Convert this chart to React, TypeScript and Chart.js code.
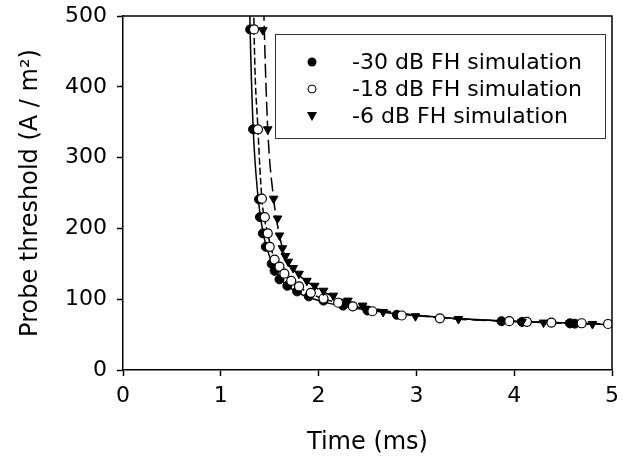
import React, { useEffect, useRef } from "react";
import { Chart, registerables } from "chart.js";
Chart.register(...registerables);

// -30 dB FH simulation (filled circles)
const t30 = [1.30, 1.33, 1.39, 1.40, 1.43, 1.46, 1.52, 1.55, 1.60, 1.68, 1.78, 1.90, 2.05, 2.25, 2.50, 2.80, 3.87, 4.08, 4.57, 4.62];
const v30 = [481, 340, 241, 216, 193, 174, 150, 140, 128, 119, 111, 104, 98, 91, 84, 78, 69, 68, 66, 65.5];
// -18 dB FH simulation (open circles)
const t18 = [1.34, 1.38, 1.42, 1.45, 1.48, 1.50, 1.55, 1.60, 1.65, 1.72, 1.80, 1.92, 2.05, 2.20, 2.35, 2.55, 2.85, 3.24, 3.95, 4.13, 4.38, 4.69, 4.96];
const v18 = [481, 340, 242, 216, 193, 174, 156, 146, 136, 126, 118, 109, 101, 95, 90, 83, 77, 73, 69, 68, 67, 66, 65];
// -6 dB FH simulation (triangles)
const t6 = [1.43, 1.48, 1.54, 1.58, 1.60, 1.63, 1.66, 1.69, 1.74, 1.80, 1.88, 1.96, 2.05, 2.15, 2.30, 2.45, 2.66, 2.99, 3.43, 4.08, 4.30, 4.57, 4.80];
const v6 = [480, 340, 242, 214, 190, 172, 161, 153, 144, 136, 126, 119, 112, 105, 98, 91, 82, 76, 72, 68, 67, 66, 65];

// fitted curves
const fit30T = [1.29, 1.30, 1.33, 1.38, 1.43, 1.50, 1.60, 1.75, 2.0, 2.3, 2.7, 3.2, 3.8, 4.4, 5.0];
const fit30V = [560, 481, 345, 245, 195, 160, 131, 112, 98, 89, 81, 75, 70, 67, 64];
const fit18T = [1.335, 1.34, 1.38, 1.42, 1.48, 1.55, 1.65, 1.8, 2.0, 2.3, 2.7, 3.2, 3.8, 4.4, 5.0];
const fit18V = [540, 481, 340, 242, 193, 156, 135, 117, 103, 92, 82, 75, 70, 67, 65];
const fit6T = [1.435, 1.445, 1.48, 1.54, 1.60, 1.66, 1.75, 1.9, 2.1, 2.4, 2.8, 3.3, 3.9, 4.5, 5.0];
const fit6V = [540, 480, 340, 242, 190, 160, 141, 123, 107, 93, 81, 73, 69, 66, 64];

const seriesLabels = ["-30 dB FH simulation", "-18 dB FH simulation", "-6 dB FH simulation"];
const xTicks = [0, 1, 2, 3, 4, 5];
const yTicks = [0, 100, 200, 300, 400, 500];

const FONT = "'DejaVu Sans', 'Liberation Sans', Arial, sans-serif";

const zip = (xs: number[], ys: number[]) => xs.map((x, i) => ({ x, y: ys[i] }));

const framePlugin = {
  id: "frame",
  afterDatasetsDraw(chart: any) {
    const { ctx, chartArea: a } = chart;
    ctx.save();
    ctx.strokeStyle = "#000";
    ctx.lineWidth = 1.5;
    ctx.beginPath();
    ctx.moveTo(a.left, a.top);
    ctx.lineTo(a.right, a.top);
    ctx.lineTo(a.right, a.bottom);
    ctx.stroke();
    // legend box
    const bx = 275, by = 34, bw = 330, bh = 104;
    ctx.fillStyle = "#fff";
    ctx.fillRect(bx, by, bw, bh);
    ctx.lineWidth = 1;
    ctx.strokeStyle = "#333";
    ctx.strokeRect(bx + 0.5, by + 0.5, bw, bh);
    const rows = [62, 89, 116];
    ctx.font = `22px ${FONT}`;
    ctx.textBaseline = "middle";
    rows.forEach((y, i) => {
      const mx = 312;
      ctx.lineWidth = 1;
      ctx.strokeStyle = "#000";
      if (i === 0) {
        ctx.fillStyle = "#000";
        ctx.beginPath();
        ctx.arc(mx, y, 4.5, 0, Math.PI * 2);
        ctx.fill();
      } else if (i === 1) {
        ctx.fillStyle = "#fff";
        ctx.beginPath();
        ctx.arc(mx, y, 4, 0, Math.PI * 2);
        ctx.fill();
        ctx.stroke();
      } else {
        ctx.fillStyle = "#000";
        ctx.beginPath();
        ctx.moveTo(mx - 5, y - 4);
        ctx.lineTo(mx + 5, y - 4);
        ctx.lineTo(mx, y + 5);
        ctx.closePath();
        ctx.fill();
      }
      ctx.fillStyle = "#000";
      ctx.textAlign = "left";
      ctx.fillText(seriesLabels[i], 352, y + 1);
    });
    ctx.restore();
  },
};

export default function App() {
  const ref = useRef<HTMLCanvasElement>(null);
  useEffect(() => {
    if (!ref.current) return;
    const lineDs = (T: number[], V: number[], dash: number[]) => ({
      type: "line" as const,
      data: zip(T, V),
      borderColor: "#000",
      borderWidth: 1.5,
      borderDash: dash,
      pointRadius: 0,
      showLine: true,
      cubicInterpolationMode: "monotone" as const,
      fill: false,
      order: 2,
    });
    const ptDs = (label: string, T: number[], V: number[], style: any) => ({
      type: "scatter" as const,
      label,
      data: zip(T, V),
      showLine: false,
      order: 1,
      ...style,
    });
    const chart = new Chart(ref.current, {
      type: "scatter",
      data: {
        datasets: [
          lineDs(fit30T, fit30V, []),
          lineDs(fit18T, fit18V, [7, 3]),
          lineDs(fit6T, fit6V, [14, 5]),
          ptDs(seriesLabels[2], t6, v6, {
            pointStyle: "triangle",
            rotation: 180,
            pointRadius: 5,
            backgroundColor: "#000",
            borderColor: "#000",
            borderWidth: 1,
          }),
          ptDs(seriesLabels[1], t18, v18, {
            pointStyle: "circle",
            pointRadius: 4.5,
            backgroundColor: "#fff",
            borderColor: "#000",
            borderWidth: 1.2,
          }),
          ptDs(seriesLabels[0], t30, v30, {
            pointStyle: "circle",
            pointRadius: 4.5,
            backgroundColor: "#000",
            borderColor: "#000",
            borderWidth: 1,
          }),
        ],
      },
      options: {
        responsive: false,
        animation: false,
        layout: { padding: { left: 0, right: 11, top: 16, bottom: 0 } },
        plugins: { legend: { display: false }, tooltip: { enabled: false } },
        scales: {
          x: {
            type: "linear",
            min: 0,
            max: 5,
            afterBuildTicks: (s: any) => {
              s.ticks = xTicks.map((v) => ({ value: v }));
            },
            afterFit: (s: any) => {
              s.height = 98;
              s.paddingLeft = 0;
              s.paddingRight = 0;
            },
            ticks: { color: "#000", font: { family: FONT, size: 22 }, padding: 7, maxRotation: 0 },
            grid: { drawOnChartArea: false, tickLength: 6, color: "#000", tickWidth: 1.5 },
            border: { color: "#000", width: 1.5 },
            title: {
              display: true,
              text: "Time (ms)",
              color: "#000",
              font: { family: FONT, size: 24 },
              padding: { top: 0, bottom: 11 },
            },
          },
          y: {
            type: "linear",
            min: 0,
            max: 500,
            afterBuildTicks: (s: any) => {
              s.ticks = yTicks.map((v) => ({ value: v }));
            },
            afterFit: (s: any) => {
              s.width = 123;
              s.paddingTop = 0;
              s.paddingBottom = 0;
            },
            ticks: { color: "#000", font: { family: FONT, size: 22 }, padding: 10 },
            grid: { drawOnChartArea: false, tickLength: 6, color: "#000", tickWidth: 1.5 },
            border: { color: "#000", width: 1.5 },
            title: {
              display: true,
              text: "Probe threshold (A / m²)",
              color: "#000",
              font: { family: FONT, size: 24 },
              padding: { top: 16, bottom: 0 },
            },
          },
        },
      },
      plugins: [framePlugin],
    } as any);
    return () => chart.destroy();
  }, []);
  return (
    <canvas
      ref={ref}
      width={623}
      height={468}
      style={{ position: "fixed", left: 0, top: 0, width: 623, height: 468, background: "#fff" }}
    />
  );
}
